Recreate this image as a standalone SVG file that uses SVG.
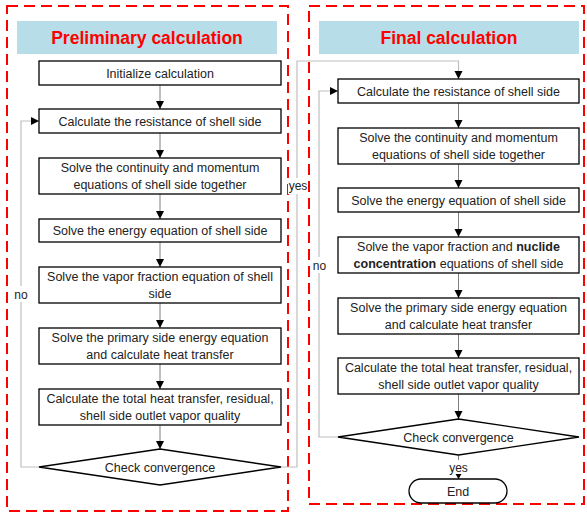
<svg xmlns="http://www.w3.org/2000/svg" width="587" height="515" viewBox="0 0 587 515">
<style>
.frame{fill:none;stroke:#ff0000;stroke-width:2;stroke-dasharray:11 6}
.title{fill:#b7dee8}
.tt{font-family:"Liberation Sans",Arial,sans-serif;font-size:17.5px;font-weight:bold;fill:#ff0000;text-anchor:middle}
.box{fill:#fff;stroke:#000;stroke-width:1.3}
.t{font-family:"Liberation Sans",Arial,sans-serif;font-size:12.5px;fill:#222;text-anchor:middle}
.arr{fill:none;stroke:#7f7f7f;stroke-width:1;marker-end:url(#ah)}
.loop{fill:none;stroke:#bfbfbf;stroke-width:1.2;marker-end:url(#ah)}
.lbl{font-family:"Liberation Sans",Arial,sans-serif;font-size:12px;fill:#222;text-anchor:middle}
</style>
<defs>
<marker id="ah" viewBox="0 0 10 10" refX="10" refY="5" markerWidth="8" markerHeight="9" orient="auto" markerUnits="userSpaceOnUse">
<path d="M0,0 L10,5 L0,10 z" fill="#000"/>
</marker>
</defs>
<rect width="587" height="515" fill="#fff"/>
<g id="frames">
<rect class="frame" x="7" y="6" width="281" height="505"/>
<rect class="frame" x="309" y="6" width="275" height="498"/>
<rect class="title" x="17" y="21" width="260" height="33"/>
<rect class="title" x="319" y="21" width="260" height="33"/>
<text class="tt" x="147" y="44">Preliminary calculation</text>
<text class="tt" x="449" y="44">Final calculation</text>
</g>
<g id="connectors">
<line class="arr" x1="160" y1="85" x2="160" y2="109"/>
<line class="arr" x1="160" y1="133" x2="160" y2="158"/>
<line class="arr" x1="160" y1="194" x2="160" y2="219"/>
<line class="arr" x1="160" y1="242" x2="160" y2="267"/>
<line class="arr" x1="160" y1="303" x2="160" y2="328"/>
<line class="arr" x1="160" y1="364" x2="160" y2="389"/>
<line class="arr" x1="160" y1="425" x2="160" y2="449"/>
<polyline class="loop" points="39,467 21,467 21,121 39,121"/>
<polyline class="loop" points="281,467 297,467 297,61 458.5,61 458.5,79"/>
<line class="arr" x1="458.5" y1="103" x2="458.5" y2="128"/>
<line class="arr" x1="458.5" y1="164" x2="458.5" y2="188"/>
<line class="arr" x1="458.5" y1="212" x2="458.5" y2="237"/>
<line class="arr" x1="458.5" y1="273" x2="458.5" y2="298"/>
<line class="arr" x1="458.5" y1="334" x2="458.5" y2="358"/>
<line class="arr" x1="458.5" y1="394" x2="458.5" y2="419"/>
<line class="arr" x1="458.5" y1="455" x2="458.5" y2="479" style="marker-end:none"/>
<path d="M455.5,474 L461.5,474 L458.5,479 z" fill="#000"/>
<polyline class="loop" points="338,437 319,437 319,91 338,91"/>
<rect x="12" y="286" width="18" height="16" fill="#fff"/>
<text class="lbl" x="21" y="299">no</text>
<rect x="288" y="178" width="20" height="16" fill="#fff"/>
<text class="lbl" x="298" y="190">yes</text>
<rect x="311" y="257" width="17" height="16" fill="#fff"/>
<text class="lbl" x="319.5" y="270">no</text>
<rect x="447" y="460" width="23" height="14" fill="#fff"/>
<text class="lbl" x="458.5" y="472">yes</text>
</g>
<g id="L1"><rect class="box" x="39" y="61" width="242" height="24"/><text class="t" x="160" y="77.5">Initialize calculation</text></g>
<g id="L2"><rect class="box" x="39" y="109" width="242" height="24"/><text class="t" x="160" y="125.5">Calculate the resistance of shell side</text></g>
<g id="L3"><rect class="box" x="39" y="158" width="242" height="36"/><text class="t" x="160" y="171.5">Solve the continuity and momentum</text><text class="t" x="160" y="188.5">equations of shell side together</text></g>
<g id="L4"><rect class="box" x="39" y="219" width="242" height="23"/><text class="t" x="160" y="235">Solve the energy equation of shell side</text></g>
<g id="L5"><rect class="box" x="39" y="267" width="242" height="36"/><text class="t" x="160" y="280.5">Solve the vapor fraction equation of shell</text><text class="t" x="160" y="297.5">side</text></g>
<g id="L6"><rect class="box" x="39" y="328" width="242" height="36"/><text class="t" x="160" y="341.5">Solve the primary side energy equation</text><text class="t" x="160" y="358.5">and calculate heat transfer</text></g>
<g id="L7"><rect class="box" x="39" y="389" width="242" height="36"/><text class="t" x="160" y="402.5">Calculate the total heat transfer, residual,</text><text class="t" x="160" y="419.5">shell side outlet vapor quality</text></g>
<g id="L8"><polygon class="box" points="39,467 160,449 281,467 160,485"/><text class="t" x="160" y="471.5">Check convergence</text></g>
<g id="R1"><rect class="box" x="338" y="79" width="241" height="24"/><text class="t" x="458.5" y="95.5">Calculate the resistance of shell side</text></g>
<g id="R2"><rect class="box" x="338" y="128" width="241" height="36"/><text class="t" x="458.5" y="141.5">Solve the continuity and momentum</text><text class="t" x="458.5" y="158.5">equations of shell side together</text></g>
<g id="R3"><rect class="box" x="338" y="188" width="241" height="24"/><text class="t" x="458.5" y="204.5">Solve the energy equation of shell side</text></g>
<g id="R4"><rect class="box" x="338" y="237" width="241" height="36"/><text class="t" x="458.5" y="250.5">Solve the vapor fraction and <tspan font-weight="bold">nuclide</tspan></text><text class="t" x="458.5" y="267.5"><tspan font-weight="bold">concentration</tspan> equations of shell side</text></g>
<g id="R5"><rect class="box" x="338" y="298" width="241" height="36"/><text class="t" x="458.5" y="311.5">Solve the primary side energy equation</text><text class="t" x="458.5" y="328.5">and calculate heat transfer</text></g>
<g id="R6"><rect class="box" x="338" y="358" width="241" height="36"/><text class="t" x="458.5" y="371.5">Calculate the total heat transfer, residual,</text><text class="t" x="458.5" y="388.5">shell side outlet vapor quality</text></g>
<g id="R7"><polygon class="box" points="338,437 458.5,419 579,437 458.5,455"/><text class="t" x="458.5" y="441.5">Check convergence</text></g>
<g id="R8"><rect class="box" x="409" y="479" width="98" height="24" rx="12"/><text class="t" x="458" y="495.5">End</text></g>
</svg>
